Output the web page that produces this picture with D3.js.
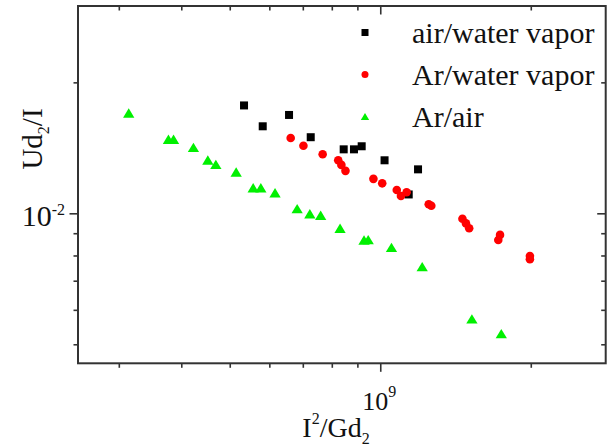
<!DOCTYPE html>
<html>
<head>
<meta charset="utf-8">
<script src="https://cdn.jsdelivr.net/npm/d3@7"></script>
<style>
  body { margin: 0; background: #fff; }
  svg { display: block; }
  text { font-family: "Liberation Serif", "Times New Roman", serif; fill: #111; }
</style>
</head>
<body>
<svg id="chart" width="612" height="448"></svg>
<script>
// series values (x: I^2/Gd2, y: Ud2/I)
const airWaterX = [5.34e8, 5.82e8, 6.57e8, 7.26e8, 8.45e8, 8.86e8, 9.18e8, 1.02e9, 1.19e9, 1.14e9];
const airWaterY = [0.0177, 0.01585, 0.01683, 0.01496, 0.01403, 0.01403, 0.01426, 0.01324, 0.01262, 0.01105];

const arWaterX = [6.62e8, 7.02e8, 7.67e8, 8.24e8, 8.36e8, 8.52e8, 9.69e8, 1.009e9, 1.079e9, 1.10e9,
                  1.129e9, 1.25e9, 1.265e9, 1.46e9, 1.484e9, 1.506e9, 1.736e9, 1.722e9, 1.992e9, 1.992e9];
const arWaterY = [0.0149, 0.0143, 0.01367, 0.01324, 0.01292, 0.01252, 0.0120, 0.01172, 0.01131, 0.01096,
                  0.01118, 0.01049, 0.01041, 0.00972, 0.00948, 0.00924, 0.00892, 0.00868, 0.00798, 0.00784];

const arAirX = [3.14e8, 3.77e8, 3.86e8, 4.23e8, 4.52e8, 4.69e8, 5.15e8, 5.57e8, 5.77e8, 6.16e8,
                6.82e8, 7.23e8, 7.60e8, 8.31e8, 9.28e8, 9.46e8, 1.053e9, 1.213e9, 1.525e9, 1.746e9];
const arAirY = [0.0170, 0.0148, 0.0148, 0.01418, 0.01326, 0.01296, 0.01244, 0.01145, 0.01145, 0.01115,
                0.01025, 0.00998, 0.0099, 0.00924, 0.00868, 0.0087, 0.00835, 0.00754, 0.00572, 0.00529];

const seriesNames = ["air/water vapor", "Ar/water vapor", "Ar/air"];

// ticks
const xMajor = [1e9];
const xMinor = [3e8, 4e8, 5e8, 6e8, 7e8, 8e8, 9e8, 2e9];
const yMajor = [1e-2];
const yMinor = [5e-3, 6e-3, 7e-3, 8e-3, 9e-3, 2e-2];

const margin = { top: 6, left: 78, right: 6.3, bottom: 84.7 };
const W = 612, H = 448;
const w = W - margin.left - margin.right;
const h = H - margin.top - margin.bottom;

const svg = d3.select("#chart");
const g = svg.append("g").attr("transform", `translate(${margin.left},${margin.top})`);

const x = d3.scaleLog().domain([2.486e8, 2.824e9]).range([0, w]);
const y = d3.scaleLog().domain([4.521e-3, 2.996e-2]).range([h, 0]);

const series = [
    { name: seriesNames[0], xs: airWaterX, ys: airWaterY, color: "#000000", shape: "square", size: 8 },
    { name: seriesNames[1], xs: arWaterX, ys: arWaterY, color: "#ff0000", shape: "circle", size: 8.6 },
    { name: seriesNames[2], xs: arAirX, ys: arAirY, color: "#00f000", shape: "triangle", size: 9.4 }
];

// axes (bottom / left ticks point out, top / right ticks point in)
function styleAxis(sel) {
    sel.select(".domain").remove();
    sel.selectAll("line").attr("stroke", "#333").attr("stroke-width", 1.6);
}
function addAxis(axisFn, values, size, transform) {
    g.append("g")
        .attr("transform", transform)
        .call(axisFn.tickValues(values).tickSize(size).tickFormat(""))
        .call(styleAxis);
}
addAxis(d3.axisBottom(x), xMinor, 4.5, `translate(0,${h})`);
addAxis(d3.axisBottom(x), xMajor, 8.5, `translate(0,${h})`);
addAxis(d3.axisLeft(y), yMinor, 4.5, "translate(0,0)");
addAxis(d3.axisLeft(y), yMajor, 8.5, "translate(0,0)");
addAxis(d3.axisTop(x), xMinor, -4.5, "translate(0,0)");
addAxis(d3.axisTop(x), xMajor, -8.5, "translate(0,0)");
addAxis(d3.axisRight(y), yMinor, -4.5, `translate(${w},0)`);
addAxis(d3.axisRight(y), yMajor, -8.5, `translate(${w},0)`);

// frame
g.append("rect")
    .attr("width", w).attr("height", h)
    .attr("fill", "none").attr("stroke", "#333").attr("stroke-width", 2);

// tick labels
const xl = g.append("text")
    .attr("x", x(xMajor[0]) - 1).attr("y", h + 47)
    .attr("text-anchor", "middle").style("font-size", "26px");
xl.append("tspan").text("10");
xl.append("tspan").attr("dy", -13).style("font-size", "16px").text("9");

const yl = g.append("text")
    .attr("x", -13).attr("y", y(yMajor[0]) + 13)
    .attr("text-anchor", "end").style("font-size", "30px");
yl.append("tspan").text("10");
yl.append("tspan").attr("dy", -11).style("font-size", "16px").text("-2");

// axis titles
const xt = svg.append("text")
    .attr("x", 336).attr("y", 437)
    .attr("text-anchor", "middle").style("font-size", "28px");
xt.append("tspan").text("I");
xt.append("tspan").attr("dy", -13).style("font-size", "16px").text("2");
xt.append("tspan").attr("dy", 13).text("/Gd");
xt.append("tspan").attr("dy", 7).style("font-size", "16px").text("2");

const yt = svg.append("text")
    .attr("transform", "translate(42,139) rotate(-90)")
    .attr("text-anchor", "middle").style("font-size", "29px");
yt.append("tspan").text("Ud");
yt.append("tspan").attr("dy", 7).style("font-size", "16px").text("2");
yt.append("tspan").attr("dy", -7).text("/I");

// markers
function drawMarker(sel, shape, color, s) {
    if (shape === "square") {
        sel.append("rect").attr("x", -s / 2).attr("y", -s / 2)
            .attr("width", s).attr("height", s).attr("fill", color);
    } else if (shape === "circle") {
        sel.append("circle").attr("r", s / 2).attr("fill", color);
    } else {
        const hw = s * 0.6, hh = s * 0.5;
        sel.append("path").attr("d", `M0,${-hh}L${hw},${hh}L${-hw},${hh}Z`).attr("fill", color);
    }
}

series.forEach(sr => {
    const pts = sr.xs.map((v, i) => [v, sr.ys[i]]);
    g.append("g").selectAll("g")
        .data(pts)
        .enter()
        .append("g")
        .attr("transform", d => `translate(${x(d[0])},${y(d[1])})`)
        .each(function () { drawMarker(d3.select(this), sr.shape, sr.color, sr.size); });
});

// legend
const legend = svg.append("g");
series.forEach((sr, i) => {
    const ly = 43 + i * 42;
    const m = legend.append("g").attr("transform", `translate(365,${ly - 10.5})`);
    drawMarker(m, sr.shape, sr.color, 7);
    legend.append("text")
        .attr("x", 412).attr("y", ly)
        .style("font-size", "30px")
        .text(sr.name);
});
</script>
</body>
</html>
